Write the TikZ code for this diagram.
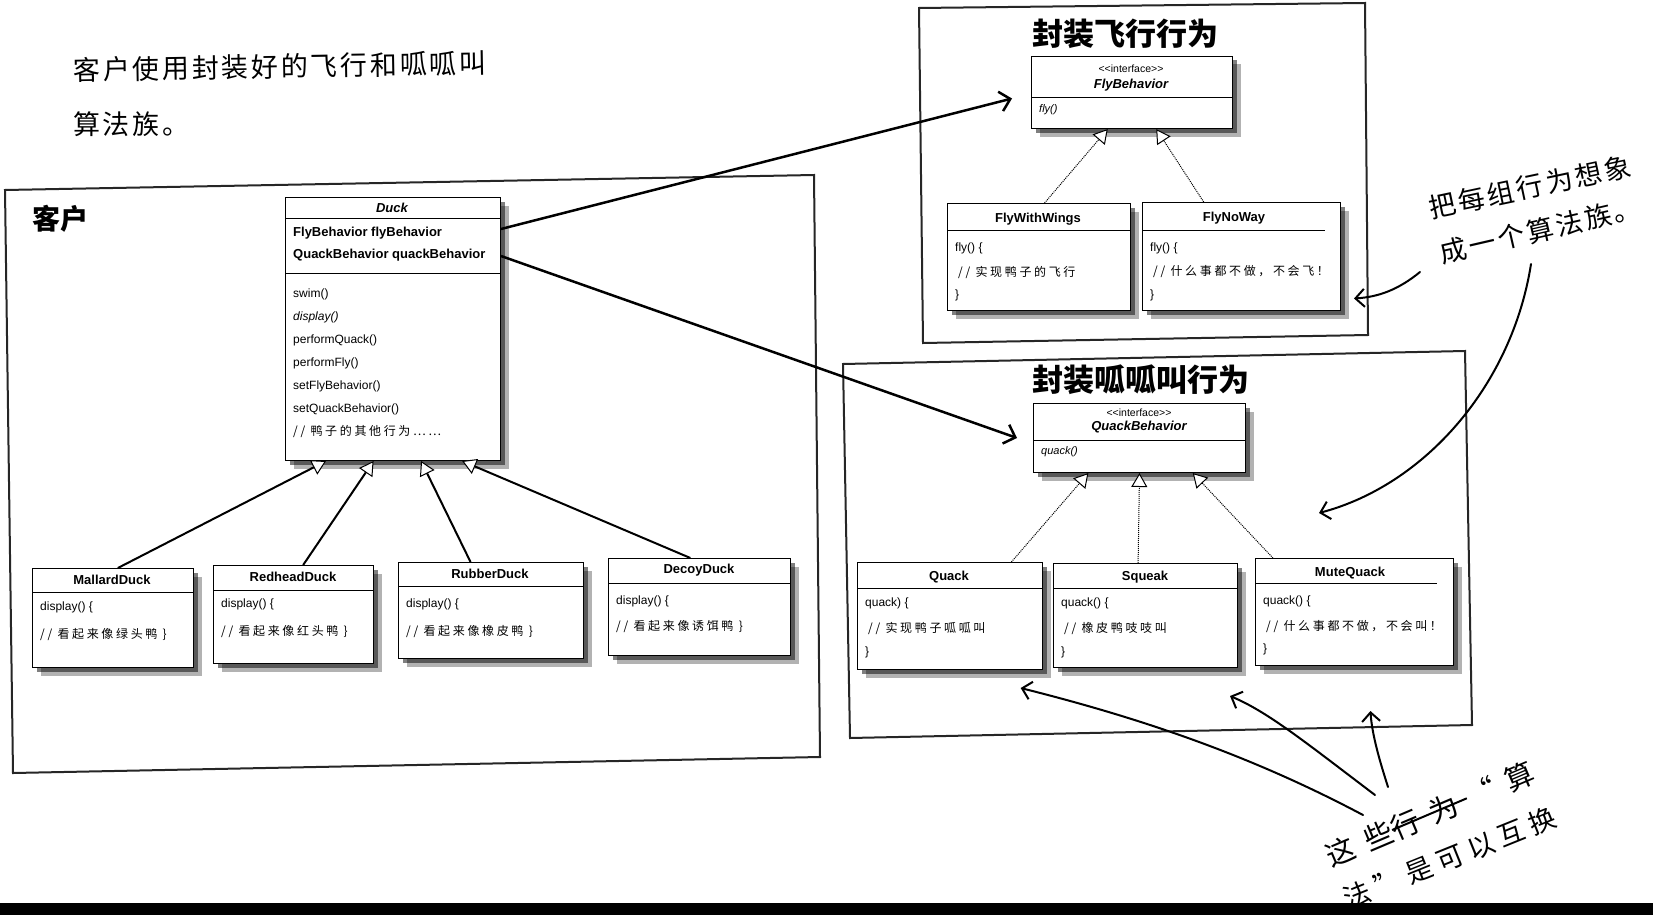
\documentclass[tikz,border=0pt]{standalone}
\usepackage{fontspec}
\setmainfont{Liberation Sans}
\newfontfamily\cjk{Noto Sans CJK SC}
\newfontfamily\cjkw[LetterSpace=22]{Noto Sans CJK SC}
\newfontfamily\hwf[LetterSpace=10]{Noto Sans CJK SC}
\newfontfamily\hwg[LetterSpace=42]{Noto Sans CJK SC}
\newfontfamily\hwh[LetterSpace=23]{Noto Sans CJK SC}
\usetikzlibrary{shadows,arrows.meta,calc}
\newcommand\strk[1]{\rlap{\raisebox{0.35em}{\rule{2.8em}{2pt}}}#1}
\begin{document}
\begin{tikzpicture}[x=1pt,y=-1pt,
  clsbox/.style={draw=black,line width=1pt,fill=white,anchor=north west,inner sep=0pt,
    drop shadow={shadow xshift=4pt,shadow yshift=-4pt,opacity=0.5,fill=black},
    drop shadow={shadow xshift=8pt,shadow yshift=-8pt,opacity=0.3,fill=black}},
  divline/.style={line width=0.9pt},
  outerframe/.style={line width=2pt,draw=black!85},
  clsname/.style={font=\fontsize{13}{15}\selectfont\bfseries,inner sep=0pt},
  clsnamei/.style={font=\fontsize{13}{15}\selectfont\bfseries\itshape,inner sep=0pt},
  ifctext/.style={font=\fontsize{10.5}{12}\selectfont,inner sep=0pt},
  attrtext/.style={font=\fontsize{13}{15}\selectfont\bfseries,anchor=west,inner sep=0pt},
  mtext/.style={font=\fontsize{12}{14}\selectfont,anchor=west,inner sep=0pt},
  cmtext/.style={font=\cjkw\fontsize{12}{14}\selectfont,anchor=west,inner sep=0pt},
  titletext/.style={font=\cjk\bfseries\fontsize{31}{34}\selectfont,inner sep=0pt},
  hwtext/.style={font=\hwf\fontsize{27}{30}\selectfont,inner sep=0pt},
  hwbtext/.style={font=\hwg\fontsize{29}{32}\selectfont,inner sep=0pt},
  hwctext/.style={font=\hwh\fontsize{27}{30}\selectfont,inner sep=0pt},
  bigarrow/.style={line width=2.5pt,-{Straight Barb[length=10pt,width=20pt]}},
  handarrow/.style={line width=2pt,line cap=round,-{Straight Barb[length=9pt,width=18pt]}},
  inharrow/.style={line width=2pt,-{Triangle[length=14pt,width=16pt,fill=white,line width=1pt]}},
  realarrow/.style={line width=1pt,densely dotted,-{Triangle[length=14pt,width=16pt,fill=white,line width=1pt]}}
]
\useasboundingbox (0,0) rectangle (1653,915);
\fill[white] (0,0) rectangle (1653,915);

% ---------- handwritten top-left ----------
\node[hwtext,anchor=west,rotate=1] (hw1) at (73,70) {客户使用封装好的飞行和呱呱叫};
\node[hwtext,anchor=west] (hw2) at (73,124) {算法族。};

% ---------- frames ----------
\draw[outerframe] (5,190) -- (814,175) -- (820,757) -- (13,773) -- cycle;
\draw[outerframe] (919,8) -- (1365,3) -- (1368,335) -- (923,343) -- cycle;
\draw[outerframe] (843,364) -- (1465,351) -- (1472,725) -- (850,738) -- cycle;

\node[font=\cjk\bfseries\fontsize{28}{30}\selectfont,inner sep=0pt] (kehu) at (60,219) {客户};
\node[titletext] (t1) at (1125,34) {封装飞行行为};
\node[titletext] (t2) at (1141,380) {封装呱呱叫行为};

% ---------- Duck ----------
\node[clsbox,minimum width=215pt,minimum height=263pt] (duck) at (285,197) {};
\node[clsnamei] (dn) at (392,208) {Duck};
\draw[divline] (285,218) -- (500,218);
\node[attrtext] (fa) at (293,233) {FlyBehavior flyBehavior};
\node[attrtext] (qa) at (293,255) {QuackBehavior quackBehavior};
\draw[divline] (285,273) -- (500,273);
\node[mtext] (m1) at (293,294) {swim()};
\node[mtext] (m2) at (293,317) {\itshape display()};
\node[mtext] (m3) at (293,340) {performQuack()};
\node[mtext] (m4) at (293,363) {performFly()};
\node[mtext] (m5) at (293,386) {setFlyBehavior()};
\node[mtext] (m6) at (293,409) {setQuackBehavior()};
\node[cmtext] (m7) at (293,432) {// 鸭子的其他行为……};

% ---------- Duck subclasses ----------
\node[clsbox,minimum width=161pt,minimum height=99pt] (mal) at (32,568) {};
\node[clsname] (maln) at (112,580) {MallardDuck};
\draw[divline] (32,592) -- (193,592);
\node[mtext] (mal1) at (40,607) {display() \{};
\node[cmtext] (mal2) at (40,635) {// 看起来像绿头鸭 \}};

\node[clsbox,minimum width=160pt,minimum height=98pt] (red) at (213,565) {};
\node[clsname] (redn) at (293,577) {RedheadDuck};
\draw[divline] (213,590) -- (373,590);
\node[mtext] (red1) at (221,604) {display() \{};
\node[cmtext] (red2) at (221,632) {// 看起来像红头鸭 \}};

\node[clsbox,minimum width=185pt,minimum height=96pt] (rub) at (398,562) {};
\node[clsname] (rubn) at (490,574) {RubberDuck};
\draw[divline] (398,586) -- (583,586);
\node[mtext] (rub1) at (406,604) {display() \{};
\node[cmtext] (rub2) at (406,631) {// 看起来像橡皮鸭 \}};

\node[clsbox,minimum width=182pt,minimum height=97pt] (dec) at (608,558) {};
\node[clsname] (decn) at (699,570) {DecoyDuck};
\draw[divline] (608,583) -- (790,583);
\node[mtext] (dec1) at (616,601) {display() \{};
\node[cmtext] (dec2) at (616,627) {// 看起来像诱饵鸭 \}};

\draw[inharrow] ($(mal.north west)!0.53!(mal.north east)$) -- ($(duck.south west)!0.19!(duck.south east)$);
\draw[inharrow] ($(red.north west)!0.56!(red.north east)$) -- ($(duck.south west)!0.41!(duck.south east)$);
\draw[inharrow] ($(rub.north west)!0.39!(rub.north east)$) -- ($(duck.south west)!0.63!(duck.south east)$);
\draw[inharrow] ($(dec.north west)!0.45!(dec.north east)$) -- ($(duck.south west)!0.82!(duck.south east)$);

% ---------- Fly behaviour ----------
\node[clsbox,minimum width=201pt,minimum height=72pt] (fb) at (1031,56) {};
\node[ifctext] (fbi) at (1131,69) {<{}<interface>{}>};
\node[clsnamei] (fbn) at (1131,85) {FlyBehavior};
\draw[divline] (1031,97) -- (1232,97);
\node[mtext,font=\fontsize{11}{13}\selectfont\itshape] (fb1) at (1039,110) {fly()};

\node[clsbox,minimum width=183pt,minimum height=107pt] (fww) at (947,203) {};
\node[clsname] (fwwn) at (1038,219) {FlyWithWings};
\draw[divline] (947,230) -- (1130,230);
\node[mtext] (fww1) at (955,248) {fly() \{};
\node[cmtext] (fww2) at (958,272) {// 实现鸭子的飞行};
\node[mtext] (fww3) at (955,295) {\}};

\node[clsbox,minimum width=198pt,minimum height=108pt] (fnw) at (1142,202) {};
\node[clsname] (fnwn) at (1234,218) {FlyNoWay};
\draw[divline] (1142,230) -- (1325,230);
\node[mtext] (fnw1) at (1150,248) {fly() \{};
\node[cmtext] (fnw2) at (1153,272) {// 什么事都不做，不会飞！};
\node[mtext] (fnw3) at (1150,295) {\}};

\draw[realarrow] ($(fww.north west)!0.53!(fww.north east)$) -- ($(fb.south west)!0.38!(fb.south east)$);
\draw[realarrow] ($(fnw.north west)!0.31!(fnw.north east)$) -- ($(fb.south west)!0.62!(fb.south east)$);

% ---------- Quack behaviour ----------
\node[clsbox,minimum width=212pt,minimum height=69pt] (qb) at (1033,403) {};
\node[ifctext] (qbi) at (1139,413) {<{}<interface>{}>};
\node[clsnamei] (qbn) at (1139,427) {QuackBehavior};
\draw[divline] (1033,440) -- (1245,440);
\node[mtext,font=\fontsize{11}{13}\selectfont\itshape] (qb1) at (1041,452) {quack()};

\node[clsbox,minimum width=185pt,minimum height=107pt] (qk) at (857,562) {};
\node[clsname] (qkn) at (949,577) {Quack};
\draw[divline] (857,588) -- (1042,588);
\node[mtext] (qk1) at (865,603) {quack) \{};
\node[cmtext] (qk2) at (868,628) {// 实现鸭子呱呱叫};
\node[mtext] (qk3) at (865,652) {\}};

\node[clsbox,minimum width=184pt,minimum height=104pt] (sq) at (1053,563) {};
\node[clsname] (sqn) at (1145,577) {Squeak};
\draw[divline] (1053,588) -- (1237,588);
\node[mtext] (sq1) at (1061,603) {quack() \{};
\node[cmtext] (sq2) at (1064,628) {// 橡皮鸭吱吱叫};
\node[mtext] (sq3) at (1061,652) {\}};

\node[clsbox,minimum width=198pt,minimum height=107pt] (mq) at (1255,558) {};
\node[clsname] (mqn) at (1350,573) {MuteQuack};
\draw[divline] (1255,583) -- (1437,583);
\node[mtext] (mq1) at (1263,601) {quack() \{};
\node[cmtext] (mq2) at (1266,627) {// 什么事都不做，不会叫！};
\node[mtext] (mq3) at (1263,649) {\}};

\draw[realarrow] ($(qk.north west)!0.83!(qk.north east)$) -- ($(qb.south west)!0.26!(qb.south east)$);
\draw[realarrow] ($(sq.north west)!0.46!(sq.north east)$) -- ($(qb.south west)!0.50!(qb.south east)$);
\draw[realarrow] ($(mq.north west)!0.09!(mq.north east)$) -- ($(qb.south west)!0.75!(qb.south east)$);

% ---------- Duck -> interfaces ----------
\draw[bigarrow] ($(duck.east |- fa)+(0,-4)$) -- ($(fb.west)+(-19,6)$);
\draw[bigarrow] ($(duck.east |- qa)+(0,1)$) -- ($(qb.west)+(-16,0)$);

% ---------- handwritten right ----------
\node[hwtext,rotate=12] (hr1) at (1530,187) {把每组行为想象};
\node[hwtext,rotate=13] (hr2) at (1540,230) {成一个算法族。};
\coordinate (a1s) at (1420,272);
\coordinate (a2s) at (1531,264);
\draw[handarrow] (a1s) .. controls (1398,290) and (1378,297) .. ($(fnw.east)+(13,42)$);
\draw[handarrow] (a2s) .. controls (1512,385) and (1425,485) .. ($(qb.south east)+(73,40)$);

% ---------- handwritten bottom ----------
\node[hwbtext,rotate=23] (hb1) at (1430,814) {这些\strk{行为}“算};
\node[hwctext,rotate=22] (hb2) at (1450,858) {法”是可以互换};
\coordinate (b1s) at (1363,815);
\coordinate (b2s) at (1375,795);
\coordinate (b3s) at (1388,787);
\draw[handarrow] (b1s) .. controls (1250,755) and (1140,718) .. ($(qk.south west)!0.88!(qk.south east)+(0,18)$);
\draw[handarrow] (b2s) .. controls (1305,742) and (1268,712) .. ($(sq.south east)+(-8,28)$);
\draw[handarrow] (b3s) .. controls (1380,762) and (1372,735) .. ($(mq.south west)!0.58!(mq.south east)+(0,45)$);

% ---------- bottom bar ----------
\fill[black] (0,903) rectangle (1653,915);
\end{tikzpicture}
\end{document}
